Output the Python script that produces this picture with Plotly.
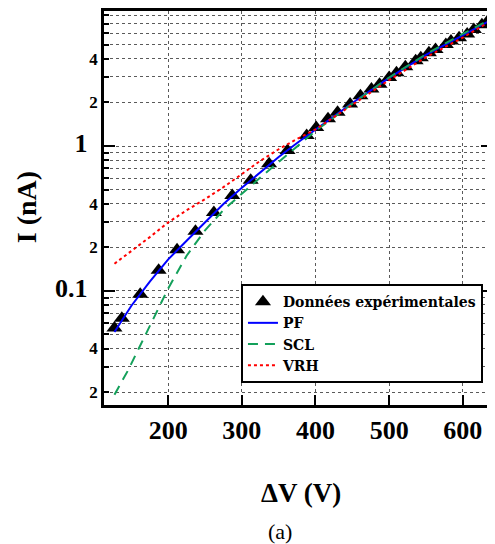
import math
import plotly.graph_objects as go

# ---- data ----
V_data = [127, 137, 162, 187, 212, 237, 262, 287, 312, 337, 362, 388, 401, 417, 430,
          447, 461, 476, 487, 500, 510, 522, 536, 543, 554, 563, 577, 584, 595, 606,
          615, 626, 633]
I_data = [0.0555, 0.0648, 0.0949, 0.1386, 0.192, 0.2576, 0.348, 0.455, 0.581, 0.754,
          0.931, 1.18, 1.34, 1.54, 1.71, 1.95, 2.22, 2.47, 2.67, 2.97, 3.21, 3.53,
          3.87, 4.07, 4.41, 4.64, 5.02, 5.30, 5.58, 5.94, 6.36, 6.88, 7.18]

V_pf = [127, 150, 175, 200, 225, 250, 275, 300, 325, 350, 375, 400, 450, 500, 550, 600, 640]
I_pf = [0.052, 0.079, 0.116, 0.165, 0.222, 0.297, 0.398, 0.515, 0.66, 0.84, 1.05, 1.30,
        1.98, 2.95, 4.25, 5.8, 7.5]

V_scl = [127, 145, 160, 180, 200, 225, 250, 275, 300, 325, 350, 375, 400, 450, 500, 550, 600, 640]
I_scl = [0.0192, 0.028, 0.040, 0.064, 0.104, 0.175, 0.262, 0.362, 0.47, 0.605, 0.775,
         0.99, 1.27, 1.96, 2.97, 4.3, 5.95, 7.6]

V_vrh = [127, 150, 175, 200, 225, 250, 275, 300, 325, 350, 375, 400, 450, 500, 550, 600, 640]
I_vrh = [0.154, 0.188, 0.235, 0.297, 0.36, 0.43, 0.52, 0.64, 0.79, 0.95, 1.12, 1.30,
         1.92, 2.85, 4.1, 5.6, 7.4]

x_ticks = [200, 300, 400, 500, 600]
y_tickvals = [0.02, 0.03, 0.04, 0.05, 0.06, 0.07, 0.08, 0.09,
              0.1, 0.2, 0.3, 0.4, 0.5, 0.6, 0.7, 0.8, 0.9,
              1, 2, 3, 4, 5, 6, 7, 8]
y_labels = ["2", "", "4", "", "", "", "", "",
            "0.1", "2", "", "4", "", "", "", "", "",
            "1", "2", "", "4", "", "", "", ""]
y_major = [0.1, 1]

FONT = "Liberation Serif"
LEG_FONT = "DejaVu Serif"
GRID = "#5a5a5a"


def big(t):
    return '<span style="font-size:26px">' + t + '\u2009\u2009</span>'


y_text = [big(t) if t in ("0.1", "1") else t for t in y_labels]

x_range = [112.8, 639.7]
y_range = [math.log10(0.0163), math.log10(8.55)]

fig = go.Figure()
fig.add_trace(go.Scatter(x=V_data, y=I_data, mode="markers", name="Données expérimentales",
                         marker=dict(symbol="triangle-up", size=14, color="black")))
fig.add_trace(go.Scatter(x=V_pf, y=I_pf, mode="lines", name="PF",
                         line=dict(color="#0000ff", width=2)))
fig.add_trace(go.Scatter(x=V_scl, y=I_scl, mode="lines", name="SCL",
                         line=dict(color="#13a05a", width=2, dash="10px,7px")))
fig.add_trace(go.Scatter(x=V_vrh, y=I_vrh, mode="lines", name="VRH", yaxis="y2",
                         line=dict(color="#ff0000", width=2, dash="3px,3px")))

fig.update_layout(
    width=487, height=536,
    margin=dict(l=96, r=0, t=0, b=139),
    paper_bgcolor="white", plot_bgcolor="white",
    font=dict(family=FONT, color="black"),
    showlegend=True,
    legend=dict(x=0.353, y=0.307, xanchor="left", yanchor="top",
                bgcolor="white", bordercolor="black", borderwidth=2,
                font=dict(family=LEG_FONT, size=14, weight="bold", color="black"),
                tracegroupgap=0, itemwidth=30),
    xaxis=dict(range=x_range, tickvals=x_ticks, ticks="inside", ticklen=10, tickwidth=2,
               tickcolor="black", showline=True, linewidth=2.5, linecolor="black",
               mirror=True, showgrid=True, gridcolor=GRID, griddash="dot",
               gridwidth=1, zeroline=False,
               tickfont=dict(family=FONT, size=26, weight="bold", color="black")),
    yaxis=dict(type="log", range=y_range, tickvals=y_tickvals, ticktext=y_text,
               ticks="inside", ticklen=5, tickwidth=2, tickcolor="black",
               showline=True, linewidth=2.5, linecolor="black", mirror="ticks",
               showgrid=True, gridcolor=GRID, griddash="dot", gridwidth=1,
               zeroline=False, ticklabelstandoff=0,
               tickfont=dict(family=FONT, size=17, weight="bold", color="black")),
    yaxis2=dict(type="log", range=y_range, overlaying="y", side="left", anchor="x",
                tickvals=y_major, ticks="inside", ticklen=11, tickwidth=2,
                tickcolor="black", showticklabels=False, showgrid=False,
                showline=False, mirror="ticks", zeroline=False),
    annotations=[
        dict(text="<b>ΔV (V)</b>", xref="paper", yref="paper", x=0.5077, y=-0.224,
             xanchor="center", yanchor="middle", showarrow=False,
             font=dict(family=FONT, size=27, color="black")),
        dict(text="<b>I (nA)</b>", xref="paper", yref="paper", x=-0.1995, y=0.501,
             xanchor="center", yanchor="middle", showarrow=False, textangle=-90,
             font=dict(family=FONT, size=28, color="black")),
        dict(text="(a)", xref="paper", yref="paper", x=0.4545, y=-0.32,
             xanchor="center", yanchor="middle", showarrow=False,
             font=dict(family=FONT, size=22, color="black")),
    ],
)

fig.write_html("out.html", config=dict(displayModeBar=False))
